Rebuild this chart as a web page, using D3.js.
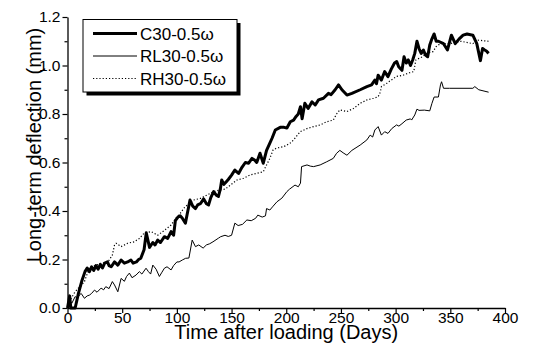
<!DOCTYPE html>
<html>
<head>
<meta charset="utf-8">
<script src="https://cdn.jsdelivr.net/npm/d3@7"></script>
<style>
  body { margin: 0; background: #fff; }
  text { font-family: "Liberation Sans", Arial, sans-serif; fill: #000; }
</style>
</head>
<body>
<svg id="chart" width="555" height="354"></svg>
<script>
// series: [day, deflection mm]
const c30 = [
  [0,0],[2,0.05],[3,0],[7,0],[10,0.06],[13,0.11],[16,0.15],[18,0.165],[20,0.15],[22,0.17],
  [24,0.155],[26,0.175],[28,0.16],[30,0.18],[32,0.165],[34,0.185],[36.5,0.19],[38,0.175],[40,0.17],
  [43,0.19],[46,0.177],[49,0.198],[52,0.185],[55,0.19],[58,0.198],[60,0.185],[63,0.19],[65,0.2],
  [67,0.205],[70,0.24],[72,0.31],[75,0.25],[78,0.27],[80,0.26],[82.5,0.28],[85,0.27],[88.6,0.294],
  [91.6,0.287],[94.7,0.315],[97,0.3],[98.6,0.36],[101,0.375],[103,0.38],[105,0.37],[107.8,0.35],
  [110,0.4],[112,0.445],[114.5,0.42],[117,0.41],[119,0.425],[121.5,0.43],[124.5,0.45],[127,0.43],
  [129,0.425],[131,0.455],[133.6,0.48],[136,0.465],[138,0.46],[139.7,0.49],[141,0.528],[143,0.51],
  [145,0.52],[147,0.53],[150,0.548],[153,0.569],[156.4,0.555],[159.5,0.58],[162.6,0.6],[165.6,0.597],
  [168.7,0.617],[171,0.61],[173,0.6],[176,0.638],[179,0.597],[182,0.65],[185,0.68],[187,0.7],
  [190,0.734],[194.5,0.745],[198,0.745],[200.6,0.742],[203.7,0.768],[206.7,0.775],[209,0.79],
  [211,0.8],[213,0.83],[214.5,0.78],[217,0.844],[220,0.823],[223.5,0.85],[226.5,0.837],[229.5,0.858],
  [234,0.865],[238.6,0.885],[241,0.88],[244.7,0.9],[247.8,0.92],[250.9,0.9],[255.5,0.878],[260,0.885],
  [267.6,0.9],[273.7,0.913],[278,0.92],[281,0.94],[282.5,0.925],[284,0.96],[287,0.94],[290,0.975],
  [293,0.954],[296,0.985],[299,1.01],[301,1.016],[302.8,0.995],[305.8,0.98],[307.7,1.036],
  [309.7,1.01],[311.6,1.023],[313.6,1.0],[315.6,1.023],[317.5,1.05],[319.5,1.1],[321.4,1.07],
  [323.4,1.05],[325.4,1.064],[327.3,1.043],[329.3,1.036],[331.2,1.085],[333.2,1.11],[335.2,1.13],
  [337.1,1.1],[339.1,1.1],[343.8,1.09],[347.4,1.064],[351,1.125],[354.5,1.09],[358.1,1.11],
  [361.7,1.125],[365.3,1.13],[370.6,1.125],[374.2,1.09],[377.5,1.02],[379.5,1.07],[381.4,1.064],
  [383,1.06],[385,1.05]
];
const rl30 = [
  [0,0],[2,0.03],[4,0.02],[7,0.047],[9,0.04],[11,0.054],[12.5,0.06],[15.5,0.04],[18,0.05],[20,0.053],
  [22,0.06],[24.7,0.074],[27,0.065],[30.7,0.082],[33,0.075],[35,0.088],[38,0.08],[41,0.109],[43,0.095],
  [46,0.067],[49,0.122],[52,0.11],[54,0.13],[56.6,0.144],[59,0.125],[62.7,0.136],[65.7,0.15],[68,0.14],
  [71.8,0.164],[74,0.15],[76,0.14],[78,0.177],[81,0.16],[84,0.13],[86,0.145],[88.6,0.164],[91,0.17],
  [94.7,0.157],[97,0.175],[100,0.19],[102,0.19],[105,0.198],[108,0.205],[111,0.206],[114,0.28],
  [117,0.253],[120,0.26],[124,0.247],[127,0.26],[130,0.265],[133,0.273],[138,0.288],[140,0.294],
  [144,0.3],[147,0.295],[150,0.3],[153,0.35],[156,0.34],[160,0.345],[164,0.363],[168,0.36],[172,0.37],
  [174,0.383],[178,0.375],[181,0.38],[182,0.41],[185,0.404],[188,0.42],[191.5,0.438],[196,0.453],
  [200.6,0.48],[203,0.49],[208,0.507],[211,0.5],[213,0.515],[214,0.583],[219,0.59],[222,0.585],
  [225,0.583],[231,0.59],[237,0.603],[243,0.617],[246,0.638],[249,0.65],[252,0.64],[255.5,0.63],
  [260,0.65],[267.6,0.672],[273.7,0.693],[276.7,0.713],[279,0.705],[281,0.734],[284,0.748],[287,0.713],
  [290,0.727],[293,0.72],[296.5,0.74],[300.9,0.755],[303,0.75],[305.8,0.76],[309.7,0.775],
  [313.6,0.78],[314.6,0.775],[317.5,0.796],[319.5,0.82],[321.4,0.815],[326.3,0.816],[331.2,0.813],
  [333.2,0.844],[335.2,0.87],[339.1,0.87],[341,0.92],[342,0.933],[343.8,0.906],[349.2,0.906],
  [370.6,0.906],[372.4,0.913],[376,0.9],[385,0.89]
];
const rh30 = [
  [0,0],[3.4,0.04],[6,0.06],[9.4,0.08],[12,0.09],[15.5,0.109],[18,0.14],[20,0.165],[25,0.175],
  [30.7,0.184],[37,0.19],[41,0.218],[43,0.26],[44.5,0.267],[49,0.253],[55,0.267],[61,0.273],
  [65.7,0.287],[70,0.308],[76.4,0.315],[82.5,0.3],[88.6,0.32],[94.7,0.342],[99,0.37],[104,0.395],
  [106,0.41],[110.8,0.43],[115,0.445],[121.5,0.452],[127.6,0.466],[133.6,0.48],[140,0.487],[144,0.49],
  [149,0.507],[155,0.528],[161,0.535],[167,0.549],[173,0.555],[179,0.562],[182,0.59],[185,0.617],
  [188,0.652],[191.5,0.66],[197.5,0.665],[200.6,0.672],[203.7,0.68],[206.7,0.693],[212.8,0.727],
  [219,0.74],[225,0.748],[231,0.755],[237,0.768],[243,0.775],[246,0.8],[249,0.817],[255.5,0.81],
  [261.5,0.823],[267.6,0.844],[273.7,0.858],[279.8,0.865],[284,0.871],[286,0.89],[287,0.913],
  [292,0.927],[296,0.94],[300.9,0.955],[306.8,0.96],[312.6,0.97],[316.6,0.975],[318.5,1.023],
  [324.4,1.036],[328.3,1.05],[334.2,1.057],[337.1,1.078],[339.1,1.085],[342,1.09],[349.2,1.09],
  [359.9,1.1],[370.6,1.09],[374.2,1.105],[385,1.1]
];
const seriesNames = ["C30-0.5ω", "RL30-0.5ω", "RH30-0.5ω"];
const xTicks = [0, 50, 100, 150, 200, 250, 300, 350, 400];
const yTicks = [0, 0.2, 0.4, 0.6, 0.8, 1.0, 1.2];

const svg = d3.select("#chart"),
      margin = {top: 17, right: 50, bottom: 46, left: 67.5},
      width = +svg.attr("width") - margin.left - margin.right,
      height = +svg.attr("height") - margin.top - margin.bottom;

const g = svg.append("g").attr("transform", `translate(${margin.left},${margin.top})`);

const x = d3.scaleLinear().domain([0, 400]).range([0, width]);
const y = d3.scaleLinear().domain([0, 1.2]).range([height, 0]);

// minor ticks
g.append("g")
  .attr("transform", `translate(0,${height})`)
  .call(d3.axisBottom(x).tickValues(d3.range(25, 400, 50)).tickSize(3).tickSizeOuter(0).tickFormat(""))
  .call(a => a.select(".domain").remove());
g.append("g")
  .call(d3.axisLeft(y).tickValues(d3.range(0.1, 1.2, 0.2)).tickSize(3).tickSizeOuter(0).tickFormat(""))
  .call(a => a.select(".domain").remove());

// main axes
const xAxis = g.append("g")
  .attr("transform", `translate(0,${height})`)
  .call(d3.axisBottom(x).tickValues(xTicks).tickSize(5).tickPadding(-1).tickSizeOuter(0));
const yAxis = g.append("g")
  .call(d3.axisLeft(y).tickValues(yTicks).tickSize(5).tickPadding(2).tickSizeOuter(0)
    .tickFormat(d => d.toFixed(1)));

[xAxis, yAxis].forEach(a => {
  a.selectAll("text").style("font-size", "15.5px").attr("fill", "#000");
  a.select(".domain").attr("stroke-width", 1.3);
});
g.selectAll(".tick line").attr("stroke", "#000").attr("stroke-width", 1.2);

// lines
const line = d3.line().x(d => x(d[0])).y(d => y(d[1]));
const styles = [
  {w: 3, dash: null},
  {w: 1, dash: null},
  {w: 1.2, dash: "1.2,2"}
];
[c30, rl30, rh30].forEach((s, i) => {
  g.append("path")
    .datum(s)
    .attr("fill", "none")
    .attr("stroke", "#000")
    .attr("stroke-width", styles[i].w)
    .attr("stroke-linejoin", "round")
    .attr("stroke-dasharray", styles[i].dash)
    .attr("d", line);
});

// axis titles
svg.append("text")
  .attr("x", margin.left + width / 2)
  .attr("y", 339)
  .attr("text-anchor", "middle")
  .style("font-size", "20px")
  .text("Time after loading (Days)");
svg.append("text")
  .attr("transform", "translate(41,145) rotate(-90)")
  .attr("text-anchor", "middle")
  .style("font-size", "20px")
  .text("Long-term deflection (mm)");

// legend
const lg = svg.append("g").attr("transform", "translate(83,19.5)");
lg.append("rect").attr("x", 3.5).attr("y", 3.5).attr("width", 154).attr("height", 72.5).attr("fill", "#000");
lg.append("rect").attr("width", 154).attr("height", 72.5).attr("fill", "#fff").attr("stroke", "#000").attr("stroke-width", 1);
seriesNames.forEach((name, i) => {
  const yy = 14 + i * 22.5;
  lg.append("line")
    .attr("x1", 10).attr("x2", 54).attr("y1", yy).attr("y2", yy)
    .attr("stroke", "#000")
    .attr("stroke-width", styles[i].w)
    .attr("stroke-dasharray", styles[i].dash);
  lg.append("text")
    .attr("x", 57).attr("y", yy + 6)
    .style("font-size", "17px")
    .text(name);
});
</script>
</body>
</html>
